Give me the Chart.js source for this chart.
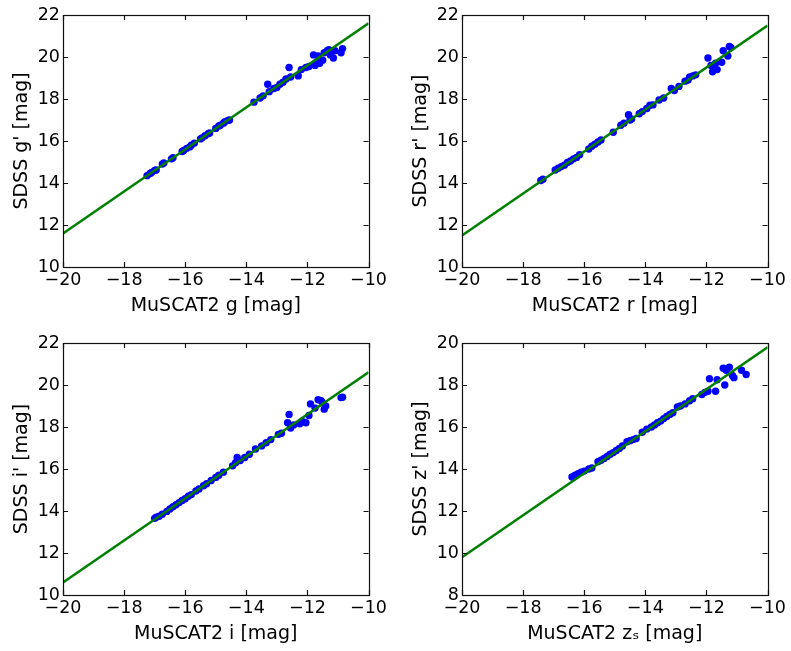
<!DOCTYPE html>
<html>
<head>
<meta charset="utf-8">
<script src="https://cdn.jsdelivr.net/npm/chart.js@4"></script>
<style>
  body { margin: 0; background: #fff; overflow: hidden; }
  .cell { position: absolute; }
</style>
</head>
<body>
<canvas id="c1" class="cell" width="390" height="328" style="left:0;top:0"></canvas>
<canvas id="c2" class="cell" width="390" height="328" style="left:399px;top:0"></canvas>
<canvas id="c3" class="cell" width="390" height="328" style="left:0;top:328px"></canvas>
<canvas id="c4" class="cell" width="390" height="328" style="left:399px;top:328px"></canvas>
<script>
// MuSCAT2 vs SDSS magnitudes, one panel per band

// g band
const gX = [-17.25, -17.15, -17.1, -17.0, -16.95, -16.75, -16.7, -16.45, -16.4, -16.1, -16.05, -15.95, -15.85, -15.8,
  -15.7, -15.5, -15.45, -15.35, -15.25, -15.2, -15.0, -14.9, -14.85, -14.75, -14.7, -14.6, -14.55,
  -13.75, -13.55, -13.45, -13.3, -13.25, -13.1, -13.0, -12.9, -12.8, -12.7, -12.6, -12.55, -12.3, -12.2, -12.05,
  -11.95, -11.8, -11.75, -11.7, -11.65, -11.6, -11.5, -11.45, -11.35, -11.3, -11.25, -11.15, -11.1, -10.9, -10.85];
const gY = [14.35, 14.45, 14.5, 14.6, 14.62, 14.9, 14.95, 15.15, 15.2, 15.5, 15.55, 15.65, 15.72, 15.8,
  15.9, 16.1, 16.15, 16.25, 16.35, 16.38, 16.6, 16.72, 16.75, 16.85, 16.92, 16.98, 17.0,
  17.85, 18.05, 18.15, 18.7, 18.35, 18.5, 18.55, 18.7, 18.8, 18.95, 19.5, 19.05, 19.1, 19.4, 19.5,
  19.55, 20.1, 19.6, 19.75, 20.05, 19.7, 19.85, 20.2, 20.3, 20.35, 20.1, 19.95, 20.3, 20.2, 20.4];

// r band
const rX = [-17.42, -17.35, -16.95, -16.85, -16.75, -16.65, -16.55, -16.45, -16.35, -16.25, -16.15, -15.85, -15.75,
  -15.65, -15.55, -15.45, -15.05, -14.8, -14.7, -14.55, -14.5, -14.45, -14.2, -14.1, -13.95, -13.85, -13.75,
  -13.55, -13.4, -13.15, -13.05, -12.9, -12.7, -12.6, -12.55, -12.45, -12.35, -11.95, -11.85, -11.8, -11.75,
  -11.7, -11.65, -11.5, -11.45, -11.3, -11.25, -11.2];
const rY = [14.12, 14.18, 14.62, 14.7, 14.78, 14.85, 14.98, 15.05, 15.15, 15.22, 15.35, 15.62, 15.75,
  15.85, 15.95, 16.05, 16.42, 16.75, 16.85, 17.25, 17.0, 17.05, 17.3, 17.4, 17.55, 17.7, 17.72,
  17.95, 18.05, 18.5, 18.4, 18.6, 18.85, 18.9, 19.05, 19.1, 19.15, 19.95, 19.6, 19.3, 19.45,
  19.7, 19.4, 19.75, 20.3, 20.05, 20.5, 20.45];

// i band
const iX = [-17.0, -16.95, -16.85, -16.75, -16.6, -16.5, -16.4, -16.3, -16.2, -16.1, -16.0, -15.9, -15.8, -15.65,
  -15.55, -15.4, -15.3, -15.15, -15.0, -14.9, -14.75, -14.45, -14.35, -14.3, -14.2, -14.05, -13.9, -13.7, -13.5,
  -13.35, -13.2, -12.95, -12.85, -12.65, -12.6, -12.55, -12.45, -12.25, -12.15, -12.05, -11.95, -11.9, -11.75,
  -11.65, -11.55, -11.5, -11.45, -11.4, -10.9, -10.85];
const iY = [13.65, 13.7, 13.75, 13.85, 13.98, 14.1, 14.2, 14.3, 14.4, 14.5, 14.58, 14.7, 14.78, 14.95,
  15.05, 15.2, 15.3, 15.45, 15.6, 15.7, 15.85, 16.15, 16.3, 16.55, 16.4, 16.55, 16.7, 16.95, 17.1,
  17.25, 17.4, 17.65, 17.7, 18.2, 18.6, 17.95, 18.1, 18.15, 18.25, 18.2, 18.55, 19.1, 18.9,
  19.3, 19.25, 19.15, 18.85, 19.0, 19.4, 19.42];

// z_s band
const zX = [-16.4, -16.3, -16.2, -16.1, -16.0, -15.85, -15.75, -15.55, -15.45, -15.35, -15.25, -15.15, -15.05, -14.95,
  -14.85, -14.75, -14.6, -14.5, -14.4, -14.3, -14.1, -13.95, -13.8, -13.7, -13.6, -13.5, -13.4, -13.3, -13.2,
  -13.1, -12.95, -12.85, -12.7, -12.55, -12.45, -12.15, -12.05, -11.95, -11.9, -11.7, -11.65, -11.45, -11.4,
  -11.35, -11.25, -11.15, -11.1, -10.85, -10.7];
const zY = [13.62, 13.7, 13.78, 13.85, 13.9, 14.0, 14.05, 14.35, 14.42, 14.5, 14.6, 14.7, 14.78, 14.88,
  14.98, 15.1, 15.3, 15.35, 15.4, 15.45, 15.75, 15.9, 16.0, 16.1, 16.2, 16.28, 16.4, 16.5, 16.6,
  16.68, 16.95, 17.0, 17.1, 17.25, 17.35, 17.55, 17.65, 17.7, 18.3, 17.7, 18.25, 18.8, 18.0,
  18.7, 18.85, 18.45, 18.35, 18.7, 18.5];

// fitted relation, evaluated at the x-axis ends
const fitX = [-20, -10];
const gFitY = [11.6, 21.6];
const rFitY = [11.5, 21.5];
const iFitY = [10.6, 20.6];
const zFitY = [9.8, 19.8];

Chart.defaults.font.family = "'DejaVu Sans', sans-serif";
Chart.defaults.font.size = 17.5;
Chart.defaults.color = '#000';

const titleFont = { size: 19 };
const minusSign = v => String(v).replace('-', '\u2212');

// box around the plot with inward ticks on every side (matplotlib classic look)
const frameTicks = {
  id: 'frameTicks',
  afterDatasetsDraw(chart) {
    const { ctx, chartArea: a, scales } = chart;
    const len = 5;
    ctx.save();
    ctx.strokeStyle = '#111';
    ctx.lineWidth = 1.2;
    ctx.beginPath();
    scales.x.ticks.forEach(t => {
      const px = Math.round(scales.x.getPixelForValue(t.value)) + 0.5;
      ctx.moveTo(px, a.bottom); ctx.lineTo(px, a.bottom - len);
      ctx.moveTo(px, a.top); ctx.lineTo(px, a.top + len);
    });
    scales.y.ticks.forEach(t => {
      const py = Math.round(scales.y.getPixelForValue(t.value)) + 0.5;
      ctx.moveTo(a.left, py); ctx.lineTo(a.left + len, py);
      ctx.moveTo(a.right, py); ctx.lineTo(a.right - len, py);
    });
    ctx.stroke();
    ctx.strokeRect(Math.round(a.left) + 0.5, Math.round(a.top) + 0.5,
      Math.round(a.right - a.left), Math.round(a.bottom - a.top));
    ctx.restore();
  }
};

function makePanel(id, xs, ys, fitY, yMin, yMax, xTitle, yTitle) {
  const points = xs.map((x, k) => ({ x: x, y: ys[k] }));
  const line = fitX.map((x, k) => ({ x: x, y: fitY[k] }));

  new Chart(document.getElementById(id), {
    type: 'scatter',
    data: {
      datasets: [
        {
          data: line,
          showLine: true,
          borderColor: '#008000',
          borderWidth: 2.5,
          pointRadius: 0,
          order: 0
        },
        {
          data: points,
          backgroundColor: '#0000ff',
          borderWidth: 0,
          pointRadius: 3.7,
          order: 1
        }
      ]
    },
    options: {
      responsive: false,
      animation: false,
      events: [],
      layout: { padding: { left: 7, top: 15, right: 21, bottom: 7 } },
      plugins: { legend: { display: false }, tooltip: { enabled: false } },
      scales: {
        x: {
          type: 'linear',
          min: -20,
          max: -10,
          grid: { display: false, drawTicks: false },
          border: { display: false },
          ticks: { stepSize: 2, padding: 3, autoSkip: false, maxRotation: 0, callback: minusSign },
          title: { display: true, text: xTitle, font: titleFont },
          afterFit(scale) { scale.height = 54; }
        },
        y: {
          type: 'linear',
          min: yMin,
          max: yMax,
          grid: { display: false, drawTicks: false },
          border: { display: false },
          ticks: { stepSize: 2, padding: 3, callback: minusSign },
          title: { display: true, text: yTitle, font: titleFont },
          afterFit(scale) { scale.width = 56; }
        }
      }
    },
    plugins: [frameTicks]
  });
}

makePanel('c1', gX, gY, gFitY, 10, 22, 'MuSCAT2 g [mag]', "SDSS g' [mag]");
makePanel('c2', rX, rY, rFitY, 10, 22, 'MuSCAT2 r [mag]', "SDSS r' [mag]");
makePanel('c3', iX, iY, iFitY, 10, 22, 'MuSCAT2 i [mag]', "SDSS i' [mag]");
makePanel('c4', zX, zY, zFitY, 8, 20, 'MuSCAT2 z\u209B [mag]', "SDSS z' [mag]");
</script>
</body>
</html>
